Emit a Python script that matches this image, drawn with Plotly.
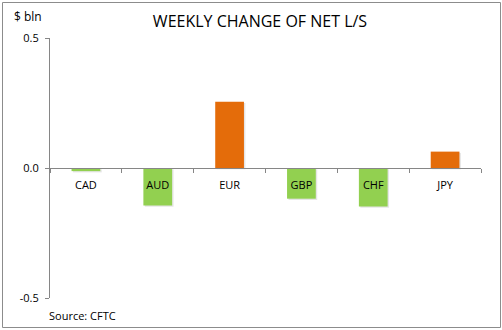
import plotly.graph_objects as go

# Weekly change of net long/short positioning, $ bln
currencies = ["CAD", "AUD", "EUR", "GBP", "CHF", "JPY"]
net_change = [-0.012, -0.144, 0.255, -0.118, -0.148, 0.063]
y_ticks = [-0.5, 0.0, 0.5]
y_tick_text = ["-0.5", "0.0", "0.5"]

GREEN = "#92D050"
ORANGE = "#E46C0A"
AXIS_GREY = "#868686"
FONT = "Open Sans, Segoe UI, Calibri, sans-serif"

bar_colors = [ORANGE if v > 0 else GREEN for v in net_change]

W, H = 502, 330
ML, MR, MT, MB = 50, 21, 38, 32

fig = go.Figure()

# soft drop shadow under each bar
fig.add_trace(go.Bar(
    x=currencies, y=net_change, width=0.4, offset=-0.2 + 0.02,
    base=[-0.005] * len(net_change),
    marker=dict(color="rgba(0,0,0,0.10)", line=dict(width=0)),
    hoverinfo="skip", showlegend=False,
))

fig.add_trace(go.Bar(
    x=currencies, y=net_change, width=0.4,
    marker=dict(color=bar_colors, line=dict(width=0)),
    showlegend=False,
))

fig.update_layout(
    width=W, height=H,
    margin=dict(l=ML, r=MR, t=MT, b=MB),
    paper_bgcolor="white", plot_bgcolor="white",
    barmode="overlay",
    font=dict(family=FONT, size=11, color="#000000"),
    title=dict(text="WEEKLY CHANGE OF NET L/S", x=(260 / W), xanchor="center",
               y=1 - 21 / H, yanchor="middle",
               font=dict(family=FONT, size=16, color="#000000")),
    xaxis=dict(
        type="category", anchor="free", position=0.5,
        showline=True, linecolor=AXIS_GREY, linewidth=1,
        ticks="outside", ticklen=4, tickcolor=AXIS_GREY, tickson="boundaries",
        ticklabelstandoff=7,
        showgrid=False, zeroline=False, fixedrange=True,
        tickfont=dict(family=FONT, size=11, color="#000000"),
        range=[-0.5, 5.5],
    ),
    yaxis=dict(
        range=[-0.5, 0.5], tickvals=y_ticks, ticktext=y_tick_text,
        showline=True, linecolor=AXIS_GREY, linewidth=1,
        ticks="outside", ticklen=4, tickcolor=AXIS_GREY,
        ticklabelstandoff=4,
        showgrid=False, zeroline=False,
        tickfont=dict(family=FONT, size=11, color="#000000"),
    ),
    annotations=[
        dict(text="$ bln", xref="paper", yref="paper",
             x=(12 - ML) / (W - ML - MR), y=1 + (MT - 16) / (H - MT - MB),
             xanchor="left", yanchor="middle", showarrow=False,
             font=dict(family=FONT, size=12, color="#000000")),
        dict(text="Source: CFTC", xref="paper", yref="paper",
             x=(47 - ML) / (W - ML - MR), y=-(315 - (H - MB)) / (H - MT - MB),
             xanchor="left", yanchor="middle", showarrow=False,
             font=dict(family=FONT, size=11, color="#000000")),
    ],
    shapes=[
        dict(type="rect", xref="paper", yref="paper",
             x0=(2.5 - ML) / (W - ML - MR), x1=(500.5 - ML) / (W - ML - MR),
             y0=-(327.5 - (H - MB)) / (H - MT - MB), y1=1 + (MT - 2.5) / (H - MT - MB),
             line=dict(color="#8C8C8C", width=1), layer="below"),
    ],
)

fig.write_html("out.html")
